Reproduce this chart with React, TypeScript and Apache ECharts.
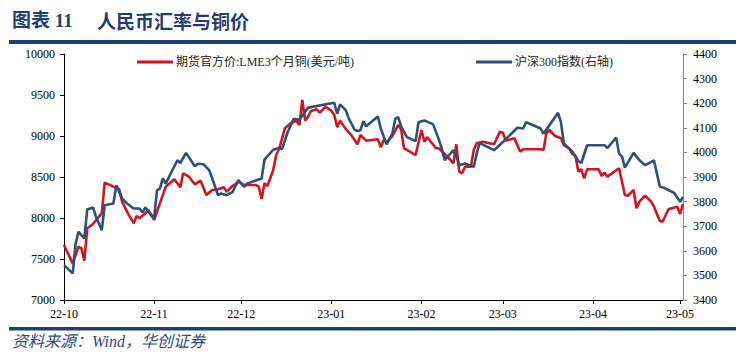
import React, { useEffect, useRef } from "react";
import * as echarts from "echarts";

// LME 3-month copper (USD/t), left axis
const lmeDates = [
  "2022-10-01","2022-10-04","2022-10-06","2022-10-07","2022-10-08","2022-10-09","2022-10-11","2022-10-13","2022-10-14","2022-10-15",
  "2022-10-18","2022-10-20","2022-10-21","2022-10-23","2022-10-25","2022-10-26","2022-10-27","2022-10-29","2022-10-30","2022-11-01",
  "2022-11-03","2022-11-05","2022-11-08","2022-11-10","2022-11-11","2022-11-13","2022-11-15","2022-11-17","2022-11-19","2022-11-21",
  "2022-11-23","2022-11-25","2022-11-26","2022-11-28","2022-11-30","2022-12-02","2022-12-06","2022-12-07","2022-12-08","2022-12-09",
  "2022-12-10","2022-12-12","2022-12-13","2022-12-14","2022-12-16","2022-12-18","2022-12-20","2022-12-21","2022-12-22","2022-12-23",
  "2022-12-24","2022-12-25","2022-12-27","2022-12-28","2022-12-30","2023-01-01","2023-01-02","2023-01-03","2023-01-04","2023-01-06",
  "2023-01-08","2023-01-10","2023-01-11","2023-01-13","2023-01-17","2023-01-18","2023-01-19","2023-01-20","2023-01-22","2023-01-24",
  "2023-01-25","2023-01-26","2023-01-28","2023-01-30","2023-02-01","2023-02-02","2023-02-03","2023-02-06","2023-02-07","2023-02-09",
  "2023-02-11","2023-02-12","2023-02-13","2023-02-14","2023-02-15","2023-02-16","2023-02-18","2023-02-19","2023-02-20","2023-02-22",
  "2023-02-26","2023-02-28","2023-03-01","2023-03-02","2023-03-05","2023-03-07","2023-03-08","2023-03-14","2023-03-15","2023-03-16",
  "2023-03-17","2023-03-19","2023-03-21","2023-03-22","2023-03-24","2023-03-25","2023-03-26","2023-03-27","2023-03-28","2023-03-29",
  "2023-03-30","2023-04-03","2023-04-04","2023-04-05","2023-04-06","2023-04-10","2023-04-12","2023-04-13","2023-04-15","2023-04-16",
  "2023-04-17","2023-04-19","2023-04-21","2023-04-22","2023-04-24","2023-04-25","2023-04-27","2023-04-30","2023-05-01","2023-05-02",
];
const lmeValues = [
  7670,7447,7650,7630,7479,7874,7927,8016,8057,8431,
  8382,8350,8199,8057,7935,8024,7996,8057,8098,7976,
  8179,8382,8472,8374,8545,8504,8411,8455,8280,8341,
  8350,8374,8321,8390,8443,8402,8402,8382,8232,8423,
  8390,8585,8768,8838,9094,9155,9187,9134,9439,9187,
  9236,9305,9326,9285,9357,9309,9256,9106,9187,9085,
  9004,8899,9012,8943,8960,8862,8951,8923,9000,9134,
  9082,8850,8809,8768,9073,8930,8984,8850,8850,8780,
  8707,8667,8899,8565,8545,8626,8626,8829,8911,8930,
  8899,9053,9041,8943,8972,8809,8838,8838,8829,9033,
  9073,9000,8972,8890,8841,8780,8756,8565,8594,8484,
  8594,8594,8512,8553,8504,8606,8280,8272,8341,8118,
  8199,8272,8199,8138,7967,7955,8106,8138,8049,8170,
];

// CSI 300 index, right axis
const csiDates = [
  "2022-10-01","2022-10-04","2022-10-05","2022-10-06","2022-10-08","2022-10-09","2022-10-11","2022-10-12","2022-10-14","2022-10-15",
  "2022-10-18","2022-10-19","2022-10-21","2022-10-23","2022-10-25","2022-10-27","2022-10-28","2022-10-29","2022-11-01","2022-11-02",
  "2022-11-03","2022-11-04","2022-11-05","2022-11-09","2022-11-10","2022-11-12","2022-11-15","2022-11-16","2022-11-18","2022-11-20",
  "2022-11-21","2022-11-23","2022-11-24","2022-11-26","2022-11-28","2022-11-30","2022-12-02","2022-12-03","2022-12-08","2022-12-09",
  "2022-12-12","2022-12-14","2022-12-15","2022-12-17","2022-12-19","2022-12-21","2022-12-24","2023-01-02","2023-01-03","2023-01-04",
  "2023-01-06","2023-01-07","2023-01-09","2023-01-10","2023-01-11","2023-01-12","2023-01-13","2023-01-17","2023-01-18","2023-01-20",
  "2023-01-22","2023-01-23","2023-01-24","2023-01-25","2023-01-27","2023-01-30","2023-01-31","2023-02-02","2023-02-05","2023-02-07",
  "2023-02-08","2023-02-09","2023-02-12","2023-02-13","2023-02-14","2023-02-16","2023-02-19","2023-02-20","2023-02-21","2023-02-26",
  "2023-03-01","2023-03-06","2023-03-08","2023-03-09","2023-03-14","2023-03-15","2023-03-20","2023-03-21","2023-03-22","2023-03-25",
  "2023-03-27","2023-03-28","2023-03-30","2023-04-05","2023-04-06","2023-04-09","2023-04-10","2023-04-11","2023-04-12","2023-04-15",
  "2023-04-17","2023-04-19","2023-04-22","2023-04-24","2023-04-26","2023-04-29","2023-05-01","2023-05-02",
];
const csiValues = [
  3542,3508,3630,3677,3650,3768,3776,3738,3684,3785,
  3792,3866,3813,3789,3772,3772,3756,3776,3731,3846,
  3853,3894,3873,3968,3957,3998,3944,3954,3952,3927,
  3894,3826,3833,3826,3839,3887,3860,3873,3894,3971,
  4011,4018,4013,4083,4137,4133,4182,4202,4157,4195,
  4171,4137,4092,4087,4090,4127,4106,4146,4097,4033,
  4076,4137,4143,4106,4062,4046,4123,4130,4114,4052,
  4015,3968,4009,3984,3948,3955,3941,3995,4038,4009,
  4042,4100,4097,4123,4097,4076,4161,4123,4036,4002,
  3965,3957,4029,4029,4018,4060,3995,3984,3938,3998,
  3968,3948,3968,3862,3853,3835,3799,3819,
];

const seriesNames = ["期货官方价:LME3个月铜(美元/吨)", "沪深300指数(右轴)"];
const axisStart = "2022-10-01";
const axisEnd = "2023-05-02";

function buildDays(start: string, end: string): string[] {
  const out: string[] = [];
  const d = new Date(start + "T00:00:00Z");
  const e = new Date(end + "T00:00:00Z");
  while (d.getTime() <= e.getTime()) {
    out.push(d.toISOString().slice(0, 10));
    d.setUTCDate(d.getUTCDate() + 1);
  }
  return out;
}

const SERIF = "'Liberation Serif', 'Times New Roman', 'Noto Sans CJK SC', serif";
const TITLE_BLUE = "#1f3e72";

export default function App() {
  const ref = useRef<HTMLDivElement>(null);
  useEffect(() => {
    if (!ref.current) return;
    const chart = echarts.init(ref.current, null, { renderer: "svg" });
    const days = buildDays(axisStart, axisEnd);
    const isMonthStart = (_i: number, v: string) => v.slice(8, 10) === "01";
    const lmeData = lmeDates.map((d, i) => [d, lmeValues[i]]);
    const csiData = csiDates.map((d, i) => [d, csiValues[i]]);
    const plain = (v: number) => String(v);
    chart.setOption({
      animation: false,
      backgroundColor: "#ffffff",
      textStyle: { fontFamily: SERIF },
      grid: { left: 64, right: 63, top: 54, bottom: 64, containLabel: false },
      legend: [
        {
          data: [seriesNames[0]],
          left: 132,
          top: 51,
          itemWidth: 36,
          itemHeight: 3,
          icon: "rect",
          textStyle: { fontSize: 12, color: "#222", fontFamily: SERIF, padding: [0, 0, 0, -2] },
        },
        {
          data: [seriesNames[1]],
          left: 471,
          top: 51,
          itemWidth: 36,
          itemHeight: 3,
          icon: "rect",
          textStyle: { fontSize: 12, color: "#222", fontFamily: SERIF, padding: [0, 0, 0, -2] },
        },
      ],
      xAxis: {
        type: "category",
        data: days,
        boundaryGap: false,
        axisLine: { lineStyle: { color: "#000", width: 1 } },
        axisTick: { show: true, interval: isMonthStart, length: 4, lineStyle: { color: "#000" } },
        axisLabel: {
          interval: isMonthStart,
          formatter: (v: string) => v.slice(2, 7),
          fontSize: 12,
          color: "#000",
          margin: 8,
          fontFamily: SERIF,
        },
        splitLine: { show: false },
      },
      yAxis: [
        {
          type: "value",
          min: 7000,
          max: 10000,
          interval: 500,
          position: "left",
          axisLine: { show: true, lineStyle: { color: "#000" } },
          axisTick: { show: true, length: 4, lineStyle: { color: "#000" } },
          axisLabel: { fontSize: 12, color: "#000", margin: 9, fontFamily: SERIF, formatter: plain },
          splitLine: { show: false },
        },
        {
          type: "value",
          min: 3400,
          max: 4400,
          interval: 100,
          position: "right",
          axisLine: { show: true, lineStyle: { color: "#8c8c8c" } },
          axisTick: { show: true, length: 4, lineStyle: { color: "#8c8c8c" } },
          axisLabel: { fontSize: 12, color: "#000", margin: 10, fontFamily: SERIF, formatter: plain },
          splitLine: { show: false },
        },
      ],
      series: [
        {
          name: seriesNames[0],
          type: "line",
          yAxisIndex: 0,
          data: lmeData,
          symbol: "none",
          lineStyle: { color: "#d3141d", width: 2.6 },
          itemStyle: { color: "#d3141d" },
          z: 2,
        },
        {
          name: seriesNames[1],
          type: "line",
          yAxisIndex: 1,
          data: csiData,
          symbol: "none",
          lineStyle: { color: "#2f4e7b", width: 2.6 },
          itemStyle: { color: "#2f4e7b" },
          z: 3,
        },
      ],
      graphic: [
        {
          type: "text",
          left: 12,
          top: 11,
          style: {
            text: "图表 11",
            fontSize: 19,
            fontWeight: "bold",
            fontFamily: "'Liberation Serif', 'Noto Sans CJK SC', sans-serif",
            fill: TITLE_BLUE,
          },
        },
        {
          type: "text",
          left: 97,
          top: 11,
          style: {
            text: "人民币汇率与铜价",
            fontSize: 19,
            fontWeight: "bold",
            fontFamily: "'Noto Sans CJK SC', sans-serif",
            fill: TITLE_BLUE,
          },
        },
        {
          type: "rect",
          shape: { x: 9, y: 40, width: 727, height: 4 },
          style: { fill: TITLE_BLUE },
        },
        {
          type: "rect",
          shape: { x: 9, y: 327, width: 727, height: 3.5 },
          style: { fill: TITLE_BLUE },
        },
        {
          type: "text",
          left: 12,
          top: 333,
          style: {
            text: "资料来源：Wind，华创证券",
            fontSize: 16,
            fontStyle: "italic",
            fontFamily: "'Liberation Serif', 'Noto Sans CJK SC', serif",
            fill: "#2a4a82",
          },
        },
      ],
    });
    return () => chart.dispose();
  }, []);
  return (
    <div
      ref={ref}
      style={{ position: "absolute", left: 0, top: 0, width: 746, height: 364 }}
    />
  );
}
